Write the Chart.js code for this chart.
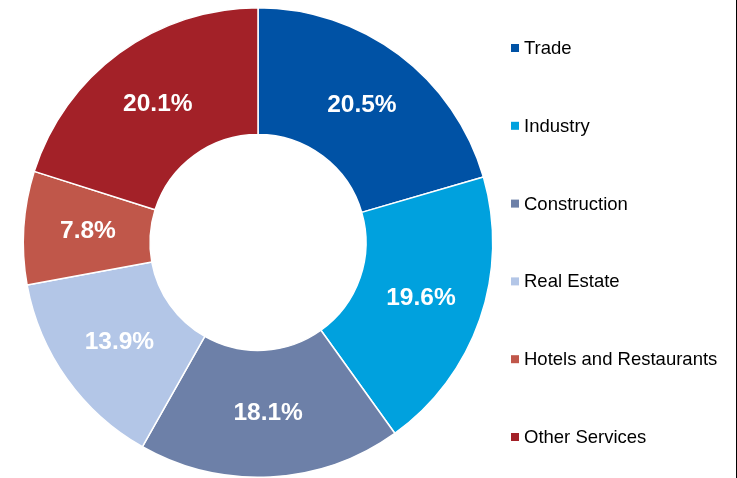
<!DOCTYPE html>
<html>
<head>
<meta charset="utf-8">
<script src="https://cdn.jsdelivr.net/npm/chart.js@4.4.0/dist/chart.umd.min.js"></script>
<style>
  html, body { margin: 0; padding: 0; background: #fff; }
  #wrap { position: relative; width: 737px; height: 478px; }
  #wrap::after { content: ""; position: absolute; right: 0; top: 0; width: 1px; height: 478px; background: #000; }
</style>
</head>
<body>
<div id="wrap"><canvas id="pie" width="737" height="478"></canvas></div>
<script>
    // sector shares, %
    const sectors = ["Trade", "Industry", "Construction", "Real Estate", "Hotels and Restaurants", "Other Services"];
    const shares = [20.5, 19.6, 18.1, 13.9, 7.8, 20.1];
    const sectorColors = ["#0052A5", "#00A1DE", "#6D80A8", "#B3C6E7", "#C0574A", "#A32128"];

    const FONT = "'Liberation Sans', Arial, sans-serif";

    // white % labels in the middle of each ring piece
    const sliceLabels = {
      id: "sliceLabels",
      afterDatasetsDraw(chart) {
        const ctx = chart.ctx;
        const meta = chart.getDatasetMeta(0);
        ctx.save();
        ctx.font = "bold 24.5px " + FONT;
        ctx.fillStyle = "#fff";
        ctx.textAlign = "center";
        ctx.textBaseline = "middle";
        meta.data.forEach((arc, i) => {
          const p = arc.getCenterPoint();
          ctx.fillText(shares[i].toFixed(1) + "%", p.x + 1, p.y);
        });
        ctx.restore();
      }
    };

    // legend column on the right
    const sideLegend = {
      id: "sideLegend",
      afterDraw(chart) {
        const ctx = chart.ctx;
        ctx.save();
        ctx.font = "18.5px " + FONT;
        ctx.textBaseline = "middle";
        chart.data.labels.forEach((lbl, i) => {
          const y = 48 + i * 77.8;
          ctx.fillStyle = sectorColors[i];
          ctx.fillRect(511, y - 4, 8, 8);
          ctx.fillStyle = "#000";
          ctx.fillText(lbl, 524, y + 1);
        });
        ctx.restore();
      }
    };

    new Chart(document.getElementById("pie"), {
      type: "doughnut",
      data: {
        labels: sectors,
        datasets: [{
          data: shares,
          backgroundColor: sectorColors,
          borderColor: "#fff",
          borderWidth: 1.5
        }]
      },
      options: {
        responsive: false,
        animation: false,
        cutout: "46%",
        layout: { padding: { left: 22, right: 243, top: 7, bottom: 0 } },
        plugins: {
          legend: { display: false },
          tooltip: { enabled: false }
        }
      },
      plugins: [sliceLabels, sideLegend]
    });
</script>
</body>
</html>
